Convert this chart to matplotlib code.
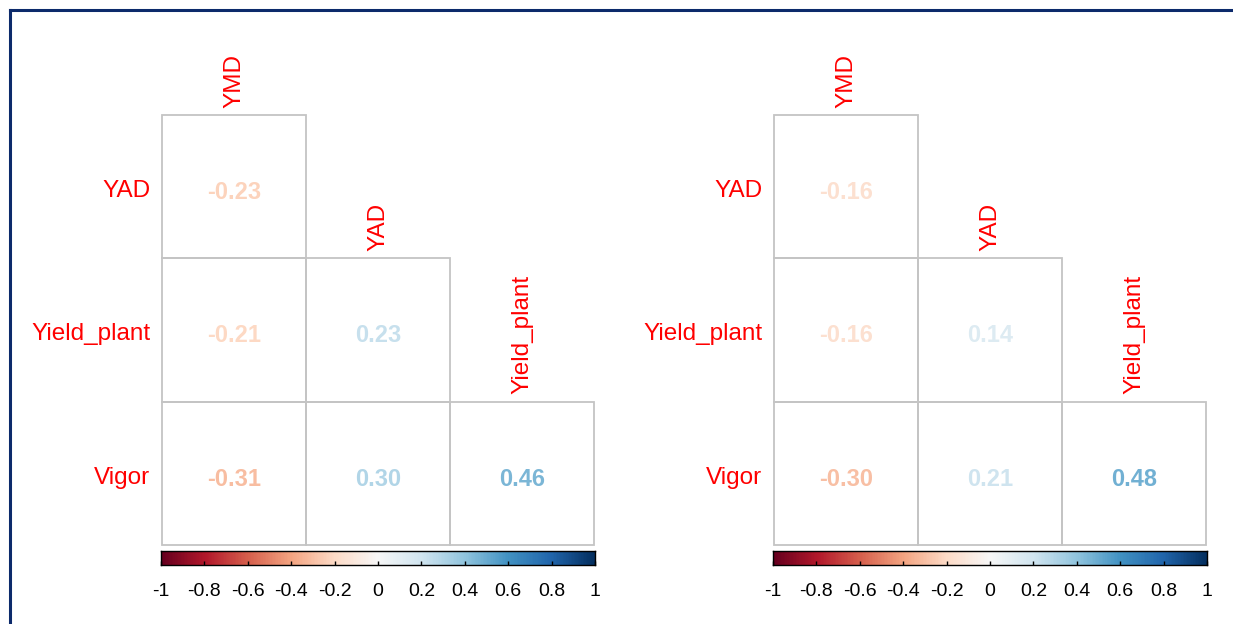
import numpy as np
import matplotlib.pyplot as plt
from matplotlib.patches import Rectangle
from matplotlib.lines import Line2D

plt.rcParams["font.family"] = ["Liberation Sans", "DejaVu Sans"]

# variables, in corrplot order
variables = ["YMD", "YAD", "Yield_plant", "Vigor"]

# lower triangle of the correlation matrix, row by row (rows YAD..Vigor)
corr_left = [
    [-0.23],
    [-0.21, 0.23],
    [-0.31, 0.30, 0.46],
]
corr_right = [
    [-0.16],
    [-0.16, 0.14],
    [-0.30, 0.21, 0.48],
]

cbar_ticks = [-1, -0.8, -0.6, -0.4, -0.2, 0, 0.2, 0.4, 0.6, 0.8, 1]

W, H = 1233, 624
cmap = plt.get_cmap("RdBu")


def px_rect(x0, y0, x1, y1):
    """pixel box (top-left origin) -> figure fraction [l, b, w, h]"""
    return [x0 / W, 1 - y1 / H, (x1 - x0) / W, (y1 - y0) / H]


def draw_corr(fig, x0, corr):
    n = len(corr)
    ax = fig.add_axes(px_rect(x0, 115, x0 + 432, 545))
    ax.set_xlim(0, n)
    ax.set_ylim(n, 0)
    ax.axis("off")

    for i, row in enumerate(corr):
        for j, v in enumerate(row):
            ax.add_patch(Rectangle((j, i), 1, 1, fill=False,
                                   edgecolor="#c4c4c4", linewidth=1.3,
                                   clip_on=False))
            ax.text(j + 0.5, i + 0.54, f"{v:.2f}", ha="center", va="center",
                    color=cmap((v + 1) / 2), fontsize=17, fontweight="bold")
        # row label on the left
        ax.text(-0.08, i + 0.53, variables[i + 1], ha="right", va="center",
                color="red", fontsize=17.5, clip_on=False)
        # column label on top of the diagonal cell
        ax.text(i + 0.5, i - 0.05, variables[i], ha="center", va="bottom",
                rotation=90, color="red", fontsize=17.5, clip_on=False)

    # colour legend under the matrix
    cax = fig.add_axes(px_rect(x0 - 1, 551, x0 + 433, 565))
    grad = np.linspace(-1, 1, 400).reshape(1, -1)
    cax.imshow(grad, cmap=cmap, vmin=-1, vmax=1, aspect="auto",
               extent=[-1, 1, 0, 1])
    cax.set_xlim(-1, 1)
    cax.set_yticks([])
    cax.set_xticks(cbar_ticks)
    cax.set_xticklabels([f"{t:g}" for t in cbar_ticks], fontsize=14)
    cax.tick_params(axis="x", direction="in", length=3, width=1, pad=13)
    for s in cax.spines.values():
        s.set_linewidth(1.0)


fig = plt.figure(figsize=(W / 100, H / 100), dpi=100)

draw_corr(fig, 162, corr_left)
draw_corr(fig, 774, corr_right)

# frame lines along the top and left edge
navy = "#0c2a6b"
fig.add_artist(Line2D([10 / W, 1], [1 - 10 / H, 1 - 10 / H], color=navy,
                      linewidth=2.2, transform=fig.transFigure))
fig.add_artist(Line2D([10 / W, 10 / W], [0, 1 - 10 / H], color=navy,
                      linewidth=2.2, transform=fig.transFigure))

fig.savefig("out.png", dpi=100)
